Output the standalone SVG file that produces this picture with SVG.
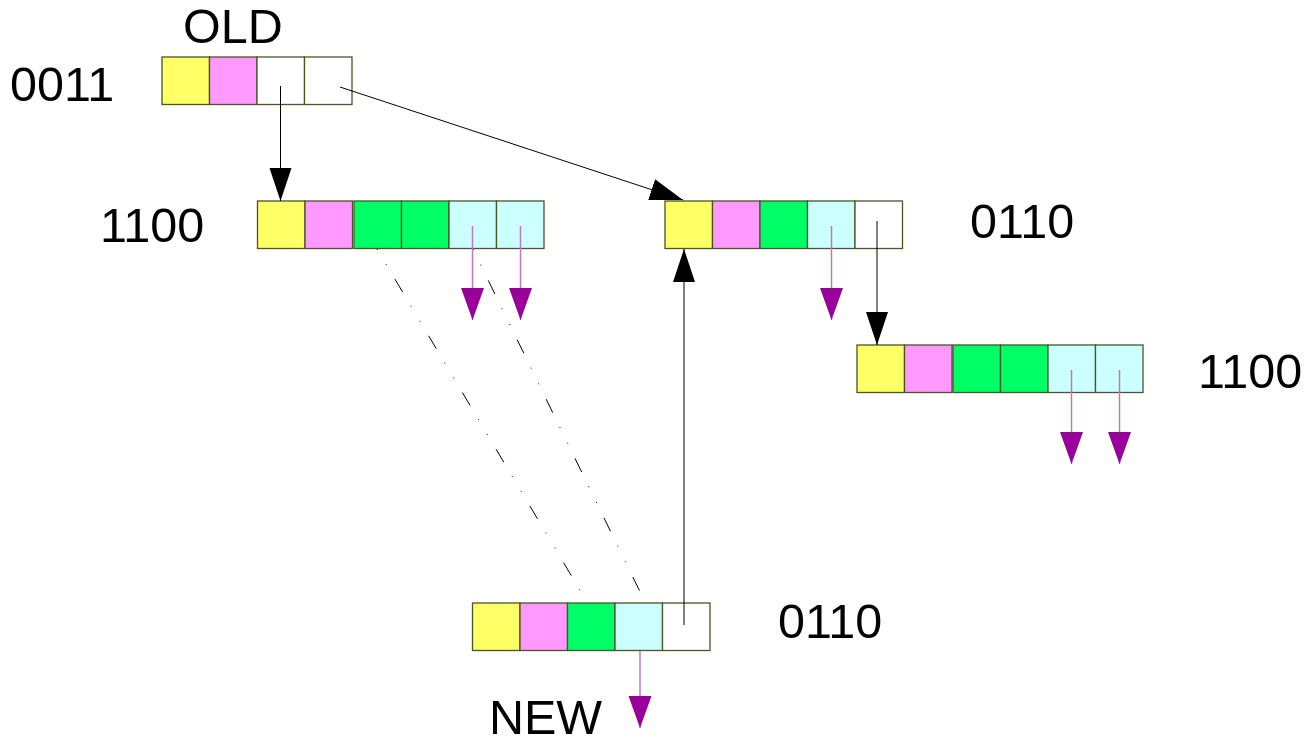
<svg xmlns="http://www.w3.org/2000/svg" width="1310" height="739" viewBox="0 0 1310 739">
<style>
.c{stroke:#4a5526;stroke-width:1.3}
.y{fill:#ffff66}.p{fill:#ff99ff}.g{fill:#00ff66}.b{fill:#ccffff}.w{fill:#ffffff}
.t{font-family:"Liberation Sans",Arial,sans-serif;font-size:48.5px;fill:#000}
.k{stroke:#000;stroke-width:1;fill:none}
.m{stroke:#c475c4;stroke-width:1.5;fill:none}
.d{stroke:#000;stroke-width:1;fill:none;stroke-dasharray:1 16.5 1 16.5 15 16}
</style>
<defs>
<marker id="ak" markerUnits="userSpaceOnUse" markerWidth="34" markerHeight="24" viewBox="0 -12 34 24" refX="33" refY="0" orient="auto"><path d="M0,-11 L33,0 L0,11 z" fill="#000"/></marker>
<marker id="ap" markerUnits="userSpaceOnUse" markerWidth="34" markerHeight="26" viewBox="0 -13 34 26" refX="32" refY="0" orient="auto"><path d="M0,-11.5 L32,0 L0,11.5 z" fill="#990099"/></marker>
</defs>
<rect width="1310" height="739" fill="#fff"/>
<g id="old">
<rect class="c y" x="162" y="57" width="47.5" height="47.5"/>
<rect class="c p" x="209.5" y="57" width="47.5" height="47.5"/>
<rect class="c w" x="257" y="57" width="47.5" height="47.5"/>
<rect class="c w" x="304.5" y="57" width="47.5" height="47.5"/>
<text class="t" x="183" y="43">OLD</text>
<text class="t" x="10" y="101">0011</text>
</g>
<g id="left1100">
<rect class="c y" x="257.5" y="201" width="47.5" height="47.5"/>
<rect class="c p" x="305" y="201" width="47.5" height="47.5"/>
<rect class="c g" x="354" y="201" width="47.5" height="47.5"/>
<rect class="c g" x="401.5" y="201" width="47.5" height="47.5"/>
<rect class="c b" x="449" y="201" width="47.5" height="47.5"/>
<rect class="c b" x="496.5" y="201" width="47.5" height="47.5"/>
<text class="t" x="100" y="242">1100</text>
</g>
<g id="right0110">
<rect class="c y" x="665" y="201" width="47.5" height="47.5"/>
<rect class="c p" x="712.5" y="201" width="47.5" height="47.5"/>
<rect class="c g" x="760" y="201" width="47.5" height="47.5"/>
<rect class="c b" x="807.5" y="201" width="47.5" height="47.5"/>
<rect class="c w" x="855" y="201" width="47.5" height="47.5"/>
<text class="t" x="970" y="238">0110</text>
</g>
<g id="right1100">
<rect class="c y" x="857" y="345" width="47.5" height="47.5"/>
<rect class="c p" x="904.5" y="345" width="47.5" height="47.5"/>
<rect class="c g" x="953" y="345" width="47.5" height="47.5"/>
<rect class="c g" x="1000.5" y="345" width="47.5" height="47.5"/>
<rect class="c b" x="1048" y="345" width="47.5" height="47.5"/>
<rect class="c b" x="1095.5" y="345" width="47.5" height="47.5"/>
<text class="t" x="1198" y="388">1100</text>
</g>
<g id="new">
<rect class="c y" x="472.5" y="603" width="47.5" height="47.5"/>
<rect class="c p" x="520" y="603" width="47.5" height="47.5"/>
<rect class="c g" x="567.5" y="603" width="47.5" height="47.5"/>
<rect class="c b" x="615" y="603" width="47.5" height="47.5"/>
<rect class="c w" x="662.5" y="603" width="47.5" height="47.5"/>
<text class="t" x="778" y="638">0110</text>
<text class="t" x="489" y="734">NEW</text>
</g>
<g id="connectors">
<line class="d" x1="377" y1="249" x2="587" y2="602"/>
<line class="d" x1="473" y1="249" x2="645" y2="602"/>
<line class="k" x1="280.5" y1="86" x2="280.5" y2="201" marker-end="url(#ak)"/>
<line class="k" x1="340" y1="87" x2="683" y2="200" marker-end="url(#ak)"/>
<line class="k" x1="684" y1="625" x2="684" y2="249" marker-end="url(#ak)"/>
<line class="k" x1="877" y1="221" x2="877" y2="345" marker-end="url(#ak)"/>
<line class="m" x1="472.5" y1="226" x2="472.5" y2="320" marker-end="url(#ap)"/>
<line class="m" x1="520.5" y1="226" x2="520.5" y2="320" marker-end="url(#ap)"/>
<line class="m" x1="831.5" y1="226" x2="831.5" y2="320" marker-end="url(#ap)"/>
<line class="m" x1="1071.5" y1="370" x2="1071.5" y2="464" marker-end="url(#ap)"/>
<line class="m" x1="1119.5" y1="370" x2="1119.5" y2="464" marker-end="url(#ap)"/>
<line class="m" x1="640" y1="651" x2="640" y2="728" marker-end="url(#ap)"/>
</g>
</svg>
